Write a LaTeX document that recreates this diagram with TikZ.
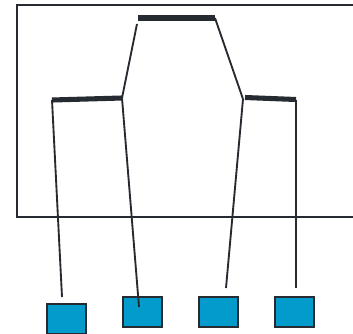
\documentclass[tikz,border=0pt]{standalone}
\usepackage{xcolor}
\usetikzlibrary{positioning}
\definecolor{ink}{HTML}{262A31}
\definecolor{pad}{HTML}{039BCB}

\begin{document}
\begin{tikzpicture}[x=0.75pt, y=-0.75pt,
  wire/.style={ink, line width=1.4pt},
  bar/.style={ink, line width=3.8pt},
  padbox/.style={draw=ink, fill=pad, line width=1.4pt, minimum width=29.25pt, minimum height=22.5pt, inner sep=0pt}]
  \useasboundingbox (0,0) rectangle (353,333);
  \draw[ink, line width=1.4pt] (17,5) rectangle (370,217);
  % bars
  \coordinate (topL) at (138,18);
  \coordinate (topR) at (215,18);
  \coordinate (leftL) at (52,100);
  \coordinate (leftR) at (122,98);
  \coordinate (rightL) at (245,97.5);
  \coordinate (rightR) at (296,99.5);
  \draw[bar] (topL) -- (topR);
  \draw[bar] (leftL) -- (leftR);
  \draw[bar] (rightL) -- (rightR);
  % pads
  \node[padbox] (p1) at (66.5,319) {};
  \foreach \x/\name in {142.5/p2, 218.5/p3, 294.5/p4}
    \node[padbox] (\name) at (\x,312) {};
  % wire ends
  \coordinate (topS) at (137,24);
  \coordinate (rightK) at (243,99);
  \coordinate (e1) at (62,297);
  \coordinate (e2) at (139,307);
  \coordinate (e3) at (226,288);
  \coordinate (e4) at (296,288);
  \draw[wire] (topS) -- (leftR);
  \draw[wire] (topR) -- (rightK);
  \draw[wire] (leftL) -- (e1);
  \draw[wire] (leftR) -- (e2);
  \draw[wire] (rightK) -- (e3);
  \draw[wire] (rightR) -- (e4);
\end{tikzpicture}
\end{document}
